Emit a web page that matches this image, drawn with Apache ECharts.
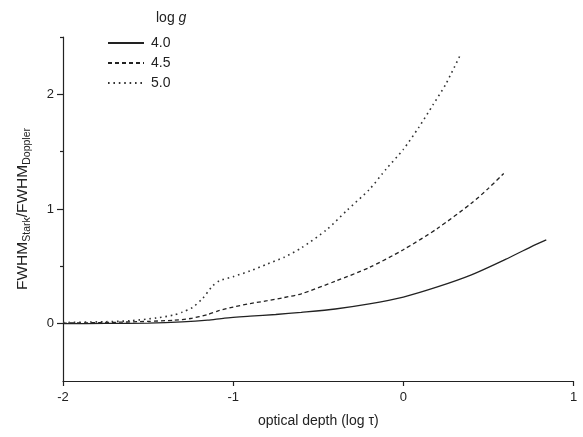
<!DOCTYPE html>
<html>
<head>
<meta charset="utf-8">
<script src="https://cdn.jsdelivr.net/npm/echarts@6.0.0/dist/echarts.min.js"></script>
<style>
html,body{margin:0;padding:0;background:#fff;}
#chart{width:583px;height:437px;}
</style>
</head>
<body>
<div id="chart"></div>
<script>
// log tau values and FWHM_Stark/FWHM_Doppler ratios
const x40 = [-2, -1.75, -1.5, -1.3, -1.15, -1.05, -0.9, -0.75, -0.6, -0.4, -0.2, 0, 0.2, 0.4, 0.6, 0.75, 0.84];
const y40 = [0.0, 0.002, 0.005, 0.015, 0.03, 0.048, 0.065, 0.08, 0.099, 0.128, 0.172, 0.232, 0.32, 0.425, 0.56, 0.67, 0.73];

const x45 = [-2, -1.75, -1.5, -1.35, -1.25, -1.15, -1.08, -1.0, -0.9, -0.8, -0.7, -0.6, -0.4, -0.2, 0, 0.2, 0.4, 0.5, 0.59];
const y45 = [0.005, 0.01, 0.02, 0.03, 0.045, 0.08, 0.115, 0.145, 0.175, 0.2, 0.228, 0.26, 0.37, 0.49, 0.645, 0.83, 1.05, 1.18, 1.31];

const x50 = [-2, -1.75, -1.6, -1.45, -1.35, -1.3, -1.24, -1.18, -1.12, -1.08, -1.0, -0.9, -0.8, -0.7, -0.6, -0.45, -0.33, -0.2, -0.1, 0, 0.09, 0.175, 0.25, 0.34];
const y50 = [0.01, 0.017, 0.026, 0.05, 0.075, 0.1, 0.14, 0.22, 0.33, 0.375, 0.41, 0.46, 0.52, 0.58, 0.66, 0.82, 0.99, 1.17, 1.35, 1.52, 1.71, 1.91, 2.09, 2.36];

const seriesNames = ['4.0', '4.5', '5.0'];
const xTicks = [-2, -1, 0, 1];
const yMajorTicks = [0, 1, 2];
const yMinorTicks = [0.5, 1.5, 2.5];

const FONT = "'Liberation Sans', Arial, Helvetica, sans-serif";
const INK = '#222';

function pairs(xs, ys) { return xs.map((v, i) => [v, ys[i]]); }

const chart = echarts.init(document.getElementById('chart'), null, {renderer: 'canvas'});

const yBase = {
  type: 'value', min: -0.5, max: 2.5, position: 'left',
  splitLine: {show: false}
};

chart.setOption({
  animation: false,
  backgroundColor: '#fff',
  textStyle: {fontFamily: FONT, color: INK},
  title: {
    text: '{a|log }{b|g}',
    left: 151, top: 6,
    textStyle: {
      fontWeight: 'normal',
      rich: {
        a: {fontSize: 14, color: INK, fontFamily: FONT, fontWeight: 'normal'},
        b: {fontSize: 14, color: INK, fontFamily: FONT, fontWeight: 'normal', fontStyle: 'italic'}
      }
    }
  },
  legend: {
    data: seriesNames,
    orient: 'vertical',
    left: 107, top: 36,
    padding: 0,
    itemWidth: 36, itemHeight: 14, itemGap: 6,
    itemStyle: {opacity: 0},
    textStyle: {fontSize: 14, color: INK, fontFamily: FONT, padding: [0, 0, 0, 2]}
  },
  grid: {left: 63, right: 9.5, top: 37, bottom: 56, containLabel: false, outerBoundsMode: 'none'},
  xAxis: {
    type: 'value', min: -2, max: 1, interval: 1,
    name: 'optical depth (log \u03c4)',
    nameLocation: 'middle', nameGap: 33,
    nameTextStyle: {fontSize: 14, color: INK, fontFamily: FONT},
    axisLine: {show: true, onZero: false, lineStyle: {color: INK, width: 1.2}},
    axisTick: {show: true, length: 5, customValues: xTicks, lineStyle: {color: INK, width: 1.2}},
    axisLabel: {fontSize: 13, color: INK, fontFamily: FONT, margin: 10, customValues: xTicks},
    splitLine: {show: false}
  },
  yAxis: [
    Object.assign({}, yBase, {
      name: '{m|FWHM}{s|Stark}{m|/FWHM}{s|Doppler}',
      nameLocation: 'middle', nameGap: 30,
      nameTextStyle: {
        rich: {
          m: {fontSize: 15.5, color: INK, fontFamily: FONT, lineHeight: 20},
          s: {fontSize: 10.5, color: INK, fontFamily: FONT, lineHeight: 10, padding: [9, 0, 0, 0]}
        }
      },
      axisLine: {show: true, onZero: false, lineStyle: {color: INK, width: 1.2}},
      axisTick: {show: true, length: 6, customValues: yMajorTicks, lineStyle: {color: INK, width: 1.2}},
      axisLabel: {fontSize: 13, color: INK, fontFamily: FONT, margin: 9, customValues: yMajorTicks}
    }),
    Object.assign({}, yBase, {
      axisLine: {show: false, onZero: false},
      axisTick: {show: true, length: 3, customValues: yMinorTicks, lineStyle: {color: INK, width: 1.2}},
      axisLabel: {show: false}
    })
  ],
  series: [
    {
      name: seriesNames[0], type: 'line', data: pairs(x40, y40),
      symbol: 'none', showSymbol: false, smooth: 0.25,
      lineStyle: {color: INK, width: 1.3, type: 'solid'},
      itemStyle: {color: INK}
    },
    {
      name: seriesNames[1], type: 'line', data: pairs(x45, y45),
      symbol: 'none', showSymbol: false, smooth: 0.25,
      lineStyle: {color: INK, width: 1.3, type: [4, 3]},
      itemStyle: {color: INK}
    },
    {
      name: seriesNames[2], type: 'line', data: pairs(x50, y50),
      symbol: 'none', showSymbol: false, smooth: 0.25,
      lineStyle: {color: '#333', width: 1.6, type: [1.6, 3.8]},
      itemStyle: {color: '#333'}
    }
  ]
});
</script>
</body>
</html>
